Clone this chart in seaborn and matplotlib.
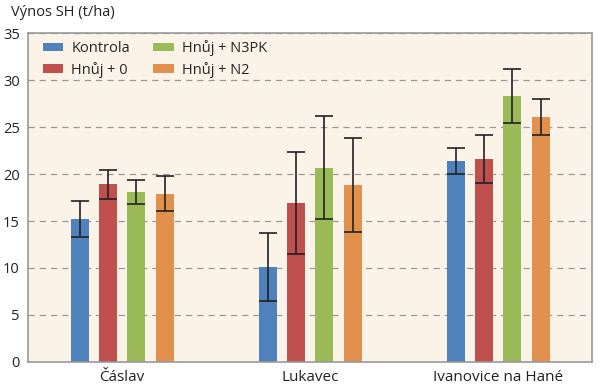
import seaborn as sns
import pandas as pd
import matplotlib.pyplot as plt

# data
locations = ["Čáslav", "Lukavec", "Ivanovice na Hané"]
treatments = ["Kontrola", "Hnůj + 0", "Hnůj + N3PK", "Hnůj + N2"]
kontrola = [15.2, 10.1, 21.4]
hnuj_0 = [18.9, 16.9, 21.6]
hnuj_n3pk = [18.1, 20.7, 28.3]
hnuj_n2 = [17.9, 18.8, 26.1]
# error bar half-lengths
err_kontrola = [1.9, 3.6, 1.35]
err_hnuj_0 = [1.5, 5.45, 2.55]
err_hnuj_n3pk = [1.25, 5.45, 2.85]
err_hnuj_n2 = [1.85, 5.0, 1.9]

colors = ["#4F81BD", "#C0504D", "#9BBB59", "#E2904E"]

values = [kontrola, hnuj_0, hnuj_n3pk, hnuj_n2]
errors = [err_kontrola, err_hnuj_0, err_hnuj_n3pk, err_hnuj_n2]
df = pd.DataFrame({
    "lokalita": [loc for _ in treatments for loc in locations],
    "varianta": [t for t in treatments for _ in locations],
    "vynos": [v for vals in values for v in vals],
})

sns.set_style("white")
plt.rcParams["font.family"] = ["Open Sans", "DejaVu Sans"]

fig = plt.figure(figsize=(6, 3.92), dpi=100)
ax = fig.add_axes([0.047, 0.077, 0.94, 0.838])
ax.set_facecolor("#FCF3E8")

sns.barplot(data=df, x="lokalita", y="vynos", hue="varianta",
            order=locations, hue_order=treatments, palette=colors,
            width=0.604, gap=0.36, errorbar=None, saturation=1,
            edgecolor="none", ax=ax, zorder=2)

# error bars on top of the bars
for cont, errs in zip(ax.containers, errors):
    xs = [p.get_x() + p.get_width() / 2 for p in cont.patches]
    ys = [p.get_height() for p in cont.patches]
    ax.errorbar(xs, ys, yerr=errs, fmt="none", ecolor="#222222",
                elinewidth=1.2, capsize=6.5, capthick=1.2, zorder=3)

ax.set_ylim(0, 35)
ax.set_xlim(-0.5, 2.5)
ax.set_yticks(range(0, 36, 5))
ax.yaxis.grid(True, linestyle=(0, (5, 4)), color="#999999", linewidth=0.9, zorder=0)
ax.set_axisbelow(True)
for s in ax.spines.values():
    s.set_visible(True)
    s.set_color("#999999")
    s.set_linewidth(1.2)
ax.tick_params(axis="both", length=0, labelsize=10.5, colors="#222222")
ax.tick_params(axis="y", pad=6)
ax.tick_params(axis="x", pad=6, labelsize=11)
ax.set_xlabel("")
ax.set_ylabel("")

fig.text(0.018, 0.967, "Výnos SH (t/ha)", fontsize=10.5, color="#222222", va="center")

ax.legend(loc="upper left", ncol=2, frameon=False, fontsize=10.5,
          handlelength=1.4, handleheight=0.48, columnspacing=1.6,
          labelspacing=0.4, handletextpad=0.55, borderpad=0,
          borderaxespad=0, bbox_to_anchor=(0.026, 0.98))

fig.savefig("out.png", dpi=100)
